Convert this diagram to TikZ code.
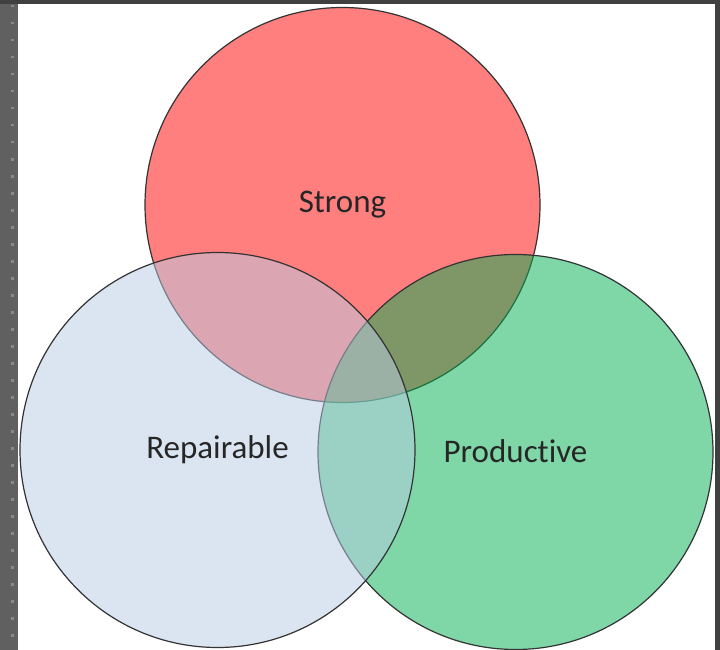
\documentclass[tikz,border=0pt]{standalone}
\usepackage{fontspec}
\setmainfont{Carlito}[Ligatures={NoCommon}]
\usepackage{xcolor}
\usepackage{tikz}
\definecolor{strongred}{HTML}{FF7F7F}
\definecolor{prodgreen}{HTML}{00B050}
\definecolor{repairblue}{HTML}{B8CCE4}
\definecolor{framedark}{HTML}{404040}
\definecolor{framegray}{HTML}{606060}
\definecolor{framedot}{HTML}{8A8A8A}
\definecolor{labelgray}{HTML}{262626}
\tikzset{
  vennset/.style={
    circle,
    draw=black!80,
    line width=1.2pt,
    minimum size=395pt,
    inner sep=0pt,
    text=labelgray,
    text opacity=1,
    font=\fontsize{33}{36}\selectfont
  },
  vennset2/.style={
    vennset,
    fill=prodgreen,
    fill opacity=0.5
  },
  vennset3/.style={
    vennset,
    fill=repairblue,
    fill opacity=0.5
  }
}
\begin{document}
\begin{tikzpicture}[x=1pt,y=-1pt]
    % frame
    \fill[white] (0,0) rectangle (720,650);
    \fill[framegray] (0,0) rectangle (18,650);
    \fill[framedark] (0,0) rectangle (720,4);
    \fill[framedark] (715,0) rectangle (720,650);
    \foreach \y in {5,22,...,650}
        \fill[framedot] (11,\y) rectangle (13.5,\y+2.5);
    \useasboundingbox (0,0) rectangle (720,650);

    \node[vennset, fill=strongred] (strong) at (342.5,205) {Strong};
    \node[vennset2] (productive) at (515.5,452) {\raisebox{2pt}{Produc\kern0pt tive}};
    \node[vennset3] (repairable) at (217.5,450) {Repairable};
\end{tikzpicture}
\end{document}
